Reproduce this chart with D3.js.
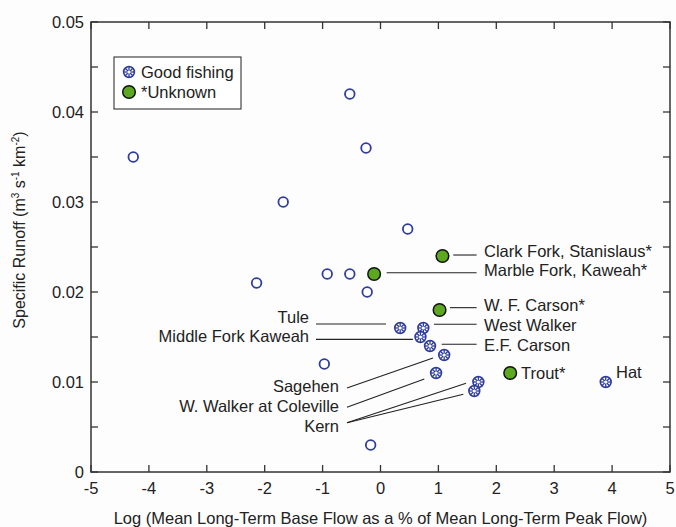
<!DOCTYPE html>
<html>
<head>
<meta charset="utf-8">
<script src="https://cdn.jsdelivr.net/npm/d3@7"></script>
<style>
  body { margin: 0; background: #fdfdfd; }
  svg { font-family: "Liberation Sans", Arial, Helvetica, sans-serif; }
</style>
</head>
<body>
<svg id="chart" width="676" height="527"></svg>
<script>
// open circles (no category in legend)
var otherX = [-4.27, -0.53, -0.25, -1.68, 0.47, -0.92, -0.53, -2.14, -0.23, -0.97, -0.17];
var otherY = [0.035, 0.042, 0.036, 0.030, 0.027, 0.022, 0.022, 0.021, 0.020, 0.012, 0.003];

// good fishing streams
var goodNames = ["Tule", "West Walker", "Middle Fork Kaweah", "E.F. Carson", "Sagehen",
                 "W. Walker at Coleville", "Kern", "Kern", "Hat"];
var goodX = [0.34, 0.74, 0.69, 0.855, 1.10, 0.96, 1.69, 1.62, 3.89];
var goodY = [0.016, 0.016, 0.015, 0.014, 0.013, 0.011, 0.010, 0.009, 0.010];

// unknown
var unkNames = ["Clark Fork, Stanislaus*", "Marble Fork, Kaweah*", "W. F. Carson*", "Trout*"];
var unkX = [1.07, -0.11, 1.02, 2.24];
var unkY = [0.024, 0.022, 0.018, 0.011];

var xTicks = [-5, -4, -3, -2, -1, 0, 1, 2, 3, 4, 5];
var yTicks = [0, 0.01, 0.02, 0.03, 0.04, 0.05];
var yMinor = [0.005, 0.015, 0.025, 0.035, 0.045];

// label placement (data units): text pos, anchor, leader lines
var labels = [
  {t: "Tule", x: -1.235, y: 0.01722, a: "end", lines: [[-1.114, 0.01644, 0.095, 0.01644]]},
  {t: "Middle Fork Kaweah", x: -1.235, y: 0.01511, a: "end", lines: [[-1.114, 0.01474, 0.56, 0.01474]]},
  {t: "Sagehen", x: -0.717, y: 0.00956, a: "end", lines: [[-0.579, 0.00933, 0.907, 0.01267]]},
  {t: "W. Walker at Coleville", x: -0.717, y: 0.00737, a: "end", lines: [[-0.579, 0.00719, 0.757, 0.01033]]},
  {t: "Kern", x: -0.717, y: 0.00514, a: "end", lines: [[-0.579, 0.00548, 1.477, 0.00986], [-0.579, 0.00548, 1.43, 0.00863]]},
  {t: "Clark Fork, Stanislaus*", x: 1.788, y: 0.02459, a: "start", lines: [[1.257, 0.02411, 1.66, 0.02411]]},
  {t: "Marble Fork, Kaweah*", x: 1.788, y: 0.02244, a: "start", lines: [[0.107, 0.02214, 1.66, 0.02214]]},
  {t: "W. F. Carson*", x: 1.788, y: 0.01856, a: "start", lines: [[1.2, 0.01826, 1.66, 0.01826]]},
  {t: "West Walker", x: 1.788, y: 0.01633, a: "start", lines: [[0.924, 0.01641, 1.66, 0.01641]]},
  {t: "E.F. Carson", x: 1.788, y: 0.01411, a: "start", lines: [[1.057, 0.01419, 1.66, 0.01419]]},
  {t: "Trout*", x: 2.427, y: 0.01103, a: "start", lines: []},
  {t: "Hat", x: 4.067, y: 0.01114, a: "start", lines: []}
];

var blue = "#2f3d9c", green = "#5ca81e", ink = "#222";
var fs = 16.5;
var margin = {left: 91, top: 22, right: 6, bottom: 55};
var W = 676, H = 527;

var svg = d3.select("#chart");
var x = d3.scaleLinear().domain([-5, 5]).range([margin.left, W - margin.right]);
var y = d3.scaleLinear().domain([0, 0.05]).range([H - margin.bottom, margin.top]);

var g = svg.append("g");

// frame
g.append("rect")
  .attr("x", x(-5)).attr("y", y(0.05))
  .attr("width", x(5) - x(-5)).attr("height", y(0) - y(0.05))
  .attr("fill", "none").attr("stroke", "#333").attr("stroke-width", 1.5);

// ticks pointing inward
var tl = 7;
g.selectAll(".xtb").data(xTicks).enter().append("line")
  .attr("x1", d => x(d)).attr("x2", d => x(d))
  .attr("y1", y(0)).attr("y2", y(0) - tl).attr("stroke", "#333").attr("stroke-width", 1.3);
g.selectAll(".xtt").data(xTicks).enter().append("line")
  .attr("x1", d => x(d)).attr("x2", d => x(d))
  .attr("y1", y(0.05)).attr("y2", y(0.05) + tl).attr("stroke", "#333").attr("stroke-width", 1.3);
var allY = yTicks.concat(yMinor);
g.selectAll(".ytl").data(allY).enter().append("line")
  .attr("x1", x(-5)).attr("x2", x(-5) + tl)
  .attr("y1", d => y(d)).attr("y2", d => y(d)).attr("stroke", "#333").attr("stroke-width", 1.3);
g.selectAll(".ytr").data(allY).enter().append("line")
  .attr("x1", x(5)).attr("x2", x(5) - tl)
  .attr("y1", d => y(d)).attr("y2", d => y(d)).attr("stroke", "#333").attr("stroke-width", 1.3);

// tick labels
g.selectAll(".xl").data(xTicks).enter().append("text")
  .attr("x", d => x(d)).attr("y", y(0) + 22)
  .attr("text-anchor", "middle").attr("font-size", fs).attr("fill", ink)
  .text(d => d);
g.selectAll(".yl").data(yTicks).enter().append("text")
  .attr("x", x(-5) - 7).attr("y", d => y(d) + 6)
  .attr("text-anchor", "end").attr("font-size", fs).attr("fill", ink)
  .text(d => d === 0 ? "0" : d3.format(".2f")(d));

// axis titles
g.append("text")
  .attr("x", (x(-5) + x(5)) / 2).attr("y", 524)
  .attr("text-anchor", "middle").attr("font-size", fs).attr("fill", ink)
  .text("Log (Mean Long-Term Base Flow as a % of Mean Long-Term Peak Flow)");

var yt = g.append("text")
  .attr("transform", "translate(25,230) rotate(-90)")
  .attr("text-anchor", "middle").attr("font-size", 16).attr("fill", ink);
yt.append("tspan").text("Specific Runoff (m");
yt.append("tspan").attr("font-size", 10).attr("dy", -6).text("3");
yt.append("tspan").attr("dy", 6).text(" s");
yt.append("tspan").attr("font-size", 10).attr("dy", -6).text("-1");
yt.append("tspan").attr("dy", 6).text(" km");
yt.append("tspan").attr("font-size", 10).attr("dy", -6).text("-2");
yt.append("tspan").attr("dy", 6).text(")");

// leader lines
labels.forEach(function (l) {
  l.lines.forEach(function (s) {
    g.append("line")
      .attr("x1", x(s[0])).attr("y1", y(s[1]))
      .attr("x2", x(s[2])).attr("y2", y(s[3]))
      .attr("stroke", ink).attr("stroke-width", 1.1);
  });
});
g.selectAll(".lab").data(labels).enter().append("text")
  .attr("x", d => x(d.x)).attr("y", d => y(d.y) + 6)
  .attr("text-anchor", d => d.a).attr("font-size", fs).attr("fill", ink)
  .text(d => d.t);

// markers
function fishMarker(sel, r) {
  sel.append("circle").attr("r", r).attr("fill", "#fff")
    .attr("stroke", blue).attr("stroke-width", 1.6);
  [0, 45, 90, 135].forEach(function (a) {
    var c = Math.cos(a * Math.PI / 180) * r, s = Math.sin(a * Math.PI / 180) * r;
    sel.append("line").attr("x1", -c).attr("y1", -s).attr("x2", c).attr("y2", s)
      .attr("stroke", blue).attr("stroke-width", 1.3);
  });
  sel.append("circle").attr("r", 1.6).attr("fill", "#fff");
}

var others = otherX.map((v, i) => ({x: v, y: otherY[i]}));
g.selectAll(".other").data(others).enter().append("circle")
  .attr("cx", d => x(d.x)).attr("cy", d => y(d.y)).attr("r", 4.8)
  .attr("fill", "#fff").attr("stroke", blue).attr("stroke-width", 1.8);

var goods = goodX.map((v, i) => ({x: v, y: goodY[i], name: goodNames[i]}));
g.selectAll(".good").data(goods).enter().append("g")
  .attr("transform", d => "translate(" + x(d.x) + "," + y(d.y) + ")")
  .each(function () { fishMarker(d3.select(this), 5.4); });

var unks = unkX.map((v, i) => ({x: v, y: unkY[i], name: unkNames[i]}));
g.selectAll(".unk").data(unks).enter().append("circle")
  .attr("cx", d => x(d.x)).attr("cy", d => y(d.y)).attr("r", 6.3)
  .attr("fill", green).attr("stroke", "#111").attr("stroke-width", 1.5);

// legend
var lg = g.append("g").attr("transform", "translate(114,57)");
lg.append("rect").attr("width", 127).attr("height", 52)
  .attr("fill", "#fff").attr("stroke", "#333").attr("stroke-width", 1.1);
fishMarker(lg.append("g").attr("transform", "translate(15,15)"), 5.4);
lg.append("circle").attr("cx", 15).attr("cy", 35).attr("r", 6.3)
  .attr("fill", green).attr("stroke", "#111").attr("stroke-width", 1.5);
lg.append("text").attr("x", 27).attr("y", 21).attr("font-size", fs).attr("fill", ink).text("Good fishing");
lg.append("text").attr("x", 27).attr("y", 41).attr("font-size", fs).attr("fill", ink).text("*Unknown");
</script>
</body>
</html>
